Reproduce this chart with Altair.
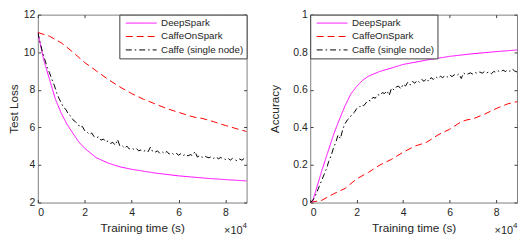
import altair as alt
import pandas as pd

FONT = "Liberation Sans"
series = ["DeepSpark", "CaffeOnSpark", "Caffe (single node)"]
colors = ["#ff00ff", "#ff0000", "#000000"]
dashes = [[1, 0], [7, 4], [6, 3, 1.5, 3]]

# ---------------- Test loss ----------------
t_ds_loss = [0, 2500, 5000, 7500, 10000, 12500, 15000, 17500, 20000, 25000, 30000,
             35000, 40000, 50000, 60000, 70000, 80000, 89000]
ds_loss = [11.05, 9.6, 8.55, 7.5, 6.75, 6.15, 5.68, 5.22, 4.88, 4.38, 4.1,
           3.9, 3.77, 3.57, 3.42, 3.31, 3.22, 3.15]

t_cos_loss = [0, 5000, 10000, 15000, 20000, 25000, 30000, 35000, 40000, 45000, 50000,
              55000, 60000, 65000, 67500, 70000, 75000, 80000, 85000, 89000]
cos_loss = [11.05, 10.85, 10.5, 10.0, 9.45, 9.0, 8.55, 8.15, 7.8, 7.5, 7.25,
            7.0, 6.8, 6.6, 6.52, 6.48, 6.3, 6.1, 5.92, 5.78]

t_caffe = [i * 1000 for i in range(90)]
caffe_loss = [11.05, 10.5, 10.0, 9.6, 9.2, 8.9, 8.55, 8.25, 7.85, 7.55,
              7.3, 7.05, 6.95, 6.7, 6.6, 6.4, 6.3, 6.2, 6.0, 6.05,
              5.82, 5.75, 5.62, 5.7, 5.5, 5.45, 5.5, 5.32, 5.38, 5.22,
              5.28, 5.15, 5.2, 5.05, 5.35, 5.0, 5.02, 4.9, 5.0, 4.85,
              4.9, 4.82, 4.88, 4.75, 4.8, 4.72, 4.78, 4.7, 4.95, 4.7,
              4.68, 4.75, 4.62, 4.7, 4.6, 4.72, 4.58, 4.65, 4.55, 4.62,
              4.52, 4.6, 4.5, 4.58, 4.48, 4.55, 4.5, 4.72, 4.42, 4.5,
              4.4, 4.48, 4.42, 4.38, 4.45, 4.35, 4.42, 4.33, 4.4, 4.32,
              4.3, 4.38, 4.25, 4.35, 4.28, 4.22, 4.32, 4.25, 4.35, 4.27]

# ---------------- Accuracy ----------------
t_ds_acc = [0, 1000, 5000, 10000, 12000, 15000, 17500, 20000, 22500, 25000, 30000, 35000,
            40000, 50000, 60000, 70000, 80000, 89000]
ds_acc = [0.0, 0.005, 0.17, 0.36, 0.425, 0.515, 0.578, 0.618, 0.65, 0.672, 0.698, 0.716,
          0.735, 0.758, 0.778, 0.792, 0.803, 0.812]

t_cos_acc = [0, 1000, 5000, 10000, 15000, 20000, 25000, 30000, 35000, 40000, 45000,
             50000, 55000, 60000, 65000, 67500, 70000, 75000, 80000, 85000, 89000]
cos_acc = [0.0, 0.003, 0.012, 0.046, 0.075, 0.126, 0.16, 0.2, 0.23, 0.268, 0.3,
           0.32, 0.36, 0.39, 0.43, 0.44, 0.445, 0.47, 0.5, 0.525, 0.537]

caffe_acc = [0.0, 0.01, 0.03, 0.06, 0.09, 0.12, 0.15, 0.18, 0.22, 0.25,
             0.29, 0.32, 0.36, 0.34, 0.39, 0.42, 0.44, 0.45, 0.47, 0.48,
             0.50, 0.505, 0.52, 0.515, 0.53, 0.545, 0.54, 0.56, 0.555, 0.575,
             0.57, 0.585, 0.58, 0.595, 0.57, 0.61, 0.6, 0.615, 0.62, 0.605,
             0.63, 0.62, 0.64, 0.625, 0.645, 0.635, 0.65, 0.64, 0.655, 0.645,
             0.66, 0.645, 0.665, 0.655, 0.67, 0.66, 0.672, 0.665, 0.675, 0.668,
             0.68, 0.67, 0.68, 0.675, 0.685, 0.66, 0.69, 0.68, 0.685, 0.69,
             0.683, 0.692, 0.687, 0.695, 0.688, 0.697, 0.69, 0.695, 0.685, 0.698,
             0.692, 0.70, 0.695, 0.705, 0.697, 0.705, 0.698, 0.71, 0.7, 0.695]

x_ticks = [0, 20000, 40000, 60000, 80000]
loss_ticks = [2, 4, 6, 8, 10, 12]
acc_ticks = [0, 0.2, 0.4, 0.6, 0.8, 1]


def frame(ts, vs, name):
    return pd.DataFrame({"t": ts, "v": vs, "series": name})


loss_df = pd.concat([frame(t_ds_loss, ds_loss, series[0]),
                     frame(t_cos_loss, cos_loss, series[1]),
                     frame(t_caffe, caffe_loss, series[2])], ignore_index=True)
acc_df = pd.concat([frame(t_ds_acc, ds_acc, series[0]),
                    frame(t_cos_acc, cos_acc, series[1]),
                    frame(t_caffe, caffe_acc, series[2])], ignore_index=True)


def panel(df, ydom, yvals, ytitle, yfmt, legend_orient, width, ytitle_pad):
    xscale = alt.Scale(domain=[0, 89000], nice=False, zero=False)
    yscale = alt.Scale(domain=ydom, nice=False, zero=False)
    leg = alt.Legend(title=None, orient=legend_orient, offset=0)
    lines = alt.Chart(df).mark_line(strokeWidth=1, clip=True).encode(
        x=alt.X("t:Q", scale=xscale,
                axis=alt.Axis(values=x_ticks, labelExpr="datum.value / 10000",
                              title="Training time (s)", orient="bottom", offset=-3,
                              tickSize=3, domain=False, grid=False,
                              labelPadding=5, titlePadding=5)),
        y=alt.Y("v:Q", scale=yscale,
                axis=alt.Axis(values=yvals, format=yfmt, title=ytitle, orient="left",
                              offset=-3, tickSize=3, domain=False, grid=False,
                              labelPadding=3, titlePadding=ytitle_pad)),
        color=alt.Color("series:N", scale=alt.Scale(domain=series, range=colors), legend=leg),
        strokeDash=alt.StrokeDash("series:N", scale=alt.Scale(domain=series, range=dashes), legend=leg),
    )
    ticks = alt.Chart(df).mark_line(opacity=0).encode(
        x=alt.X("t:Q", scale=xscale,
                axis=alt.Axis(values=x_ticks, orient="top", labels=False, title=None,
                              offset=-3, tickSize=3, domain=False, grid=False)),
        y=alt.Y("v:Q", scale=yscale,
                axis=alt.Axis(values=yvals, orient="right", labels=False, title=None,
                              offset=-3, tickSize=3, domain=False, grid=False)),
    )
    mult = alt.Chart(pd.DataFrame({"s": ["\u00d710"]})).mark_text(
        align="right", baseline="middle", font=FONT, fontSize=11, color="#262626"
    ).encode(x=alt.value(width - 4), y=alt.value(218), text="s:N")
    expo = alt.Chart(pd.DataFrame({"s": ["4"]})).mark_text(
        align="left", baseline="middle", font=FONT, fontSize=8, color="#262626"
    ).encode(x=alt.value(width - 4), y=alt.value(213), text="s:N")
    return alt.layer(lines, ticks, mult, expo).resolve_axis(
        x="independent", y="independent"
    ).properties(width=width, height=189)


left = panel(loss_df, [2, 12], loss_ticks, "Test Loss", "d", "top-right", 210, 3.5)
right = panel(acc_df, [0, 1], acc_ticks, "Accuracy", ".1~f", "top-left", 208, 12)

chart = alt.hconcat(left, right, spacing=64, bounds="flush", padding=0).resolve_scale(
    color="independent", strokeDash="independent"
).resolve_legend(color="independent", strokeDash="independent").configure_view(
    stroke="#808080", strokeWidth=1
).configure_axis(
    labelFont=FONT, titleFont=FONT, labelFontSize=10.5, titleFontSize=11.8,
    labelColor="#262626", titleColor="#262626", tickColor="#404040",
    titleFontWeight="normal"
).configure_legend(
    labelFont=FONT, labelFontSize=9.8, labelColor="#262626", strokeColor="#404040",
    fillColor="white", padding=3, symbolStrokeWidth=1, symbolType="M-3.1,0H3.1",
    symbolSize=100, rowPadding=2.5, labelOffset=14.5, cornerRadius=0, symbolOffset=13.5,
    labelLimit=200
)

chart.save("out.html", embed_options={"renderer": "svg", "actions": False})
